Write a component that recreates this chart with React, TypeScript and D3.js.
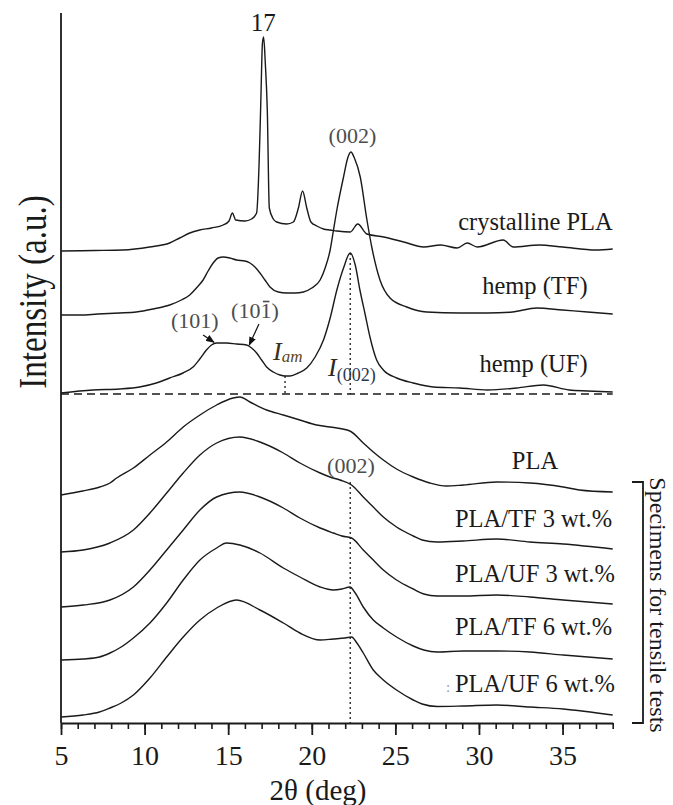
import * as d3 from 'd3';
import { useEffect, useRef } from "react";

// 2theta (deg) vs intensity (a.u., curves already stacked)
const crystallinePLA: [number, number][] = [
    [5, 472], [7, 472.5], [8.7, 473], [10.3, 476], [11.5, 480], [12.1, 485], [12.7, 490], [13.3, 493], [14.0, 495],
    [14.7, 498], [15.05, 502], [15.25, 510], [15.45, 503], [16.0, 502], [16.4, 504], [16.7, 510], [16.85, 560],
    [16.95, 620], [17.05, 680], [17.12, 686], [17.22, 660], [17.34, 613], [17.46, 515], [17.7, 504], [17.9, 501],
    [18.5, 499], [18.9, 501], [19.2, 515], [19.45, 532], [19.7, 515], [19.95, 501], [20.3, 497], [20.7, 494],
    [21.1, 493], [21.5, 492], [22.3, 491], [22.75, 499], [23.3, 489], [24.3, 486], [25.5, 481], [26.7, 476],
    [27.7, 478], [28.7, 475], [29.3, 480], [29.9, 476], [31.45, 483], [32.05, 476], [33.6, 478], [35.0, 476],
    [37.0, 473], [38, 474]
];
const hempTF: [number, number][] = [
    [5, 408], [6.2, 408], [7.2, 409], [8.5, 410], [9.5, 411], [10.5, 414], [11.5, 418], [12.2, 423], [12.7, 428],
    [13.1, 435], [13.5, 443], [13.8, 452], [14.1, 460], [14.4, 465], [14.7, 466], [15.1, 465], [15.5, 463],
    [16.0, 462], [16.3, 460], [16.6, 456], [16.9, 450], [17.2, 443], [17.5, 436], [18.0, 431], [18.5, 430],
    [19.0, 430], [19.5, 431], [20.0, 435], [20.5, 443], [20.8, 455], [21.1, 473], [21.3, 493], [21.5, 513],
    [21.9, 546], [22.15, 565], [22.34, 571], [22.55, 565], [22.9, 546], [23.3, 503], [23.6, 475], [24.08, 443],
    [24.68, 425], [25.68, 416], [26.87, 411], [28.86, 410], [30.5, 410], [32.0, 411],
    [33.45, 415], [35.0, 413], [36.5, 411], [38, 409]
];
const hempUF: [number, number][] = [
    [5, 330], [6.9, 333], [8.5, 334], [9.7, 336], [10.7, 340], [11.5, 345], [12.3, 350], [12.9, 356], [13.3, 364],
    [13.7, 373], [14.0, 378], [14.3, 380], [14.9, 380], [15.5, 379], [16.1, 378], [16.4, 375], [16.7, 370],
    [17.0, 363], [17.3, 356], [17.7, 351], [18.1, 348], [18.4, 347], [18.7, 347], [19.2, 350], [19.7, 355],
    [20.2, 366], [20.7, 383], [21.1, 405], [21.5, 433], [21.9, 455], [22.3, 470], [22.6, 458], [22.88, 433],
    [23.2, 408], [23.48, 386], [23.88, 363], [24.28, 353], [25.08, 345], [26.07, 340], [27.27, 336],
    [28.86, 335], [30.5, 333], [32.25, 335], [33.85, 338], [35.4, 333], [36.5, 332], [38, 331]
];
const PLA: [number, number][] = [
    [5, 228], [6.3, 232], [7.33, 236], [7.93, 240], [8.33, 245], [9.33, 255], [10.32, 268], [11.32, 281],
    [12.31, 296], [13.31, 308], [14.31, 318], [15.3, 325], [15.7, 326], [16.3, 321], [17.3, 313], [18.3, 308],
    [19.29, 303], [20.29, 298], [21.09, 296], [22.28, 292], [23.08, 280], [23.68, 271], [24.28, 263], [25.07, 254],
    [26.07, 246], [27.07, 240], [28.06, 237], [29.06, 238], [31.05, 241], [33.04, 240], [35.04, 236], [36.0, 233],
    [38, 231]
];
const PLA_TF3: [number, number][] = [
    [5, 171], [6.33, 173], [7.93, 180], [9.33, 193], [10.32, 210], [11.32, 230], [12.31, 250], [13.31, 268],
    [14.31, 280], [15.7, 286], [16.9, 281], [18.3, 270], [19.29, 260], [20.5, 250], [21.09, 246], [21.69, 243],
    [22.38, 238], [23.08, 226], [23.68, 216], [24.28, 206], [25.07, 196], [26.07, 187], [26.6, 183], [27.5, 181],
    [29.06, 182], [31.05, 184], [33.04, 181], [35.04, 179], [38, 174]
];
const PLA_UF3: [number, number][] = [
    [5, 116], [6.33, 118], [7.93, 123], [9.33, 136], [10.32, 153], [11.32, 173], [12.31, 193], [13.31, 213],
    [14.31, 226], [15.7, 231], [16.9, 226], [18.3, 215], [19.29, 205], [20.5, 195], [21.29, 190], [21.8, 187],
    [22.38, 185], [23.08, 173], [23.68, 163], [24.28, 153], [25.07, 143], [26.07, 134], [26.7, 129], [27.5, 127],
    [29.06, 127], [31.05, 128], [33.04, 126], [35.04, 123], [38, 119]
];
const PLA_TF6: [number, number][] = [
    [5, 63], [6.33, 64], [7.3, 66], [7.93, 70], [8.6, 76], [9.33, 85], [10.32, 100], [11.32, 120], [12.31, 143],
    [13.31, 163], [14.31, 175], [14.9, 180], [15.7, 178], [16.9, 170], [18.3, 155], [19.29, 146], [20.5, 136],
    [21.29, 133], [21.8, 134], [22.28, 136], [22.6, 130], [23.08, 116], [23.68, 103], [24.28, 95], [25.07, 86],
    [26.07, 77], [26.7, 73], [27.5, 71], [29.06, 72], [31.05, 72], [33.04, 71], [35.04, 68], [38, 64]
];
const PLA_UF6: [number, number][] = [
    [5, 6], [6.33, 8], [7.3, 11], [7.93, 15], [8.6, 20], [9.33, 28], [10.32, 45], [11.32, 66], [12.31, 86],
    [13.31, 103], [14.31, 115], [15.5, 123], [16.9, 113], [18.3, 100], [19.29, 90], [20.5, 83], [21.29, 84],
    [22.0, 85], [22.38, 86], [22.7, 80], [23.08, 70], [23.68, 53], [24.28, 43], [25.07, 33], [26.07, 23],
    [26.6, 19], [27.5, 16.5], [29.06, 17], [31.05, 18], [33.04, 16], [35.04, 14], [38, 8]
];

const seriesNames = ["crystalline PLA", "hemp (TF)", "hemp (UF)", "PLA", "PLA/TF 3 wt.%", "PLA/UF 3 wt.%", "PLA/TF 6 wt.%", "PLA/UF 6 wt.%"];
const seriesData = [crystallinePLA, hempTF, hempUF, PLA, PLA_TF3, PLA_UF3, PLA_TF6, PLA_UF6];
const xTicks = [5, 10, 15, 20, 25, 30, 35];
const xDomain = [5, 38];
const hempBaseline = 329;
const peak002 = 22.3;
const amorphousMin = 18.4;

const serif = '"Liberation Serif", "Times New Roman", serif';

const App = () => {
    const svgRef = useRef<SVGSVGElement>(null);
    const width = 673, height = 805;

    useEffect(() => {
        const svg = d3.select(svgRef.current)
            .attr('width', width)
            .attr('height', height)
            .style('font-family', serif);
        svg.selectAll('*').remove();

        const x = d3.scaleLinear().domain(xDomain).range([61, 612.7]);
        const y = d3.scaleLinear().domain([0, 710]).range([723, 13]);
        const ink = '#1a1a1a';

        svg.append('defs').append('marker')
            .attr('id', 'arr')
            .attr('viewBox', '0 0 10 8')
            .attr('refX', 9).attr('refY', 4)
            .attr('markerWidth', 9).attr('markerHeight', 7)
            .attr('markerUnits', 'userSpaceOnUse')
            .attr('orient', 'auto')
            .append('path').attr('d', 'M0,0 L10,4 L0,8 z').attr('fill', '#111');

        // minor ticks
        const minor = svg.append('g').attr('transform', `translate(0,${y(0)})`)
            .call(d3.axisBottom(x).tickValues(d3.range(5, 39, 1)).tickSize(6).tickSizeOuter(0).tickFormat(() => ''));
        minor.selectAll('line').attr('stroke', ink).attr('stroke-width', 1.6);
        minor.select('.domain').attr('stroke', ink).attr('stroke-width', 1.8);

        const major = svg.append('g').attr('transform', `translate(0,${y(0)})`)
            .call(d3.axisBottom(x).tickValues(xTicks).tickSize(12).tickSizeOuter(0).tickPadding(10))
            .attr('font-family', serif)
            .attr('font-size', 28);
        major.select('.domain').remove();
        major.selectAll('line').attr('stroke', ink).attr('stroke-width', 1.8);
        major.selectAll('text').attr('fill', ink);

        // y axis line
        svg.append('line')
            .attr('x1', x(5)).attr('x2', x(5))
            .attr('y1', y(710)).attr('y2', y(0))
            .attr('stroke', ink).attr('stroke-width', 1.8);

        // reference lines
        svg.append('line')
            .attr('x1', x(5)).attr('x2', x(38))
            .attr('y1', y(hempBaseline)).attr('y2', y(hempBaseline))
            .attr('stroke', ink).attr('stroke-width', 1.3).attr('stroke-dasharray', '8,5');
        const dotted = [
            [amorphousMin, 347, hempBaseline],
            [peak002, 470, hempBaseline],
            [peak002, 241, 0],
        ];
        dotted.forEach(([d, y1, y2]) => {
            svg.append('line')
                .attr('x1', x(d)).attr('x2', x(d))
                .attr('y1', y(y1)).attr('y2', y(y2))
                .attr('stroke', ink).attr('stroke-width', 1.3).attr('stroke-dasharray', '2,3');
        });

        const line = d3.line<[number, number]>()
            .x(d => x(d[0]))
            .y(d => y(d[1]))
            .curve(d3.curveMonotoneX);

        seriesData.forEach(s => {
            svg.append('path')
                .attr('d', line(s))
                .attr('fill', 'none')
                .attr('stroke', ink)
                .attr('stroke-width', 1.4);
        });

        // curve labels: [deg, value, anchor]
        const labelPos: [number, number, string][] = [
            [38, 493, 'end'], [36.5, 429, 'end'], [36.5, 351, 'end'],
            [33.35, 254, 'middle'], [28.56, 196, 'start'], [28.56, 141, 'start'],
            [28.56, 88, 'start'], [28.56, 31, 'start'],
        ];
        seriesNames.forEach((name, i) => {
            const [d, v, anchor] = labelPos[i];
            svg.append('text')
                .attr('x', x(d)).attr('y', y(v))
                .attr('text-anchor', anchor)
                .attr('fill', ink)
                .style('font-size', '24.5px')
                .text(name);
        });
        svg.append('text')
            .attr('x', x(28.03)).attr('y', y(31))
            .attr('fill', '#999').style('font-size', '15px')
            .text(':');

        // peak annotations
        const gray = '#4d4d4d';
        svg.append('text').attr('x', x(17.1)).attr('y', y(692)).attr('text-anchor', 'middle')
            .attr('fill', ink).style('font-size', '25px').text('17');
        svg.append('text').attr('x', x(22.43)).attr('y', y(580)).attr('text-anchor', 'middle')
            .attr('fill', gray).style('font-size', '22px').text('(002)');
        svg.append('text').attr('x', x(22.34)).attr('y', y(250)).attr('text-anchor', 'middle')
            .attr('fill', gray).style('font-size', '22px').text('(002)');
        svg.append('text').attr('x', x(13.0)).attr('y', y(395)).attr('text-anchor', 'middle')
            .attr('fill', gray).style('font-size', '22px').text('(101)');
        const hkl = svg.append('text').attr('x', x(16.6)).attr('y', y(405)).attr('text-anchor', 'middle')
            .attr('fill', gray).style('font-size', '22px').text('(101)');
        // bar over the last index
        const node = hkl.node() as SVGTextElement;
        const s = node.getStartPositionOfChar(3);
        const e = node.getEndPositionOfChar(3);
        svg.append('line')
            .attr('x1', s.x + 2.5).attr('x2', e.x - 2)
            .attr('y1', y(405) - 16.5).attr('y2', y(405) - 16.5)
            .attr('stroke', gray).attr('stroke-width', 1.6);

        const arrows = [
            [13.5, 388, 14.15, 380.7],
            [16.84, 399, 16.26, 378],
        ];
        arrows.forEach(([d1, v1, d2, v2]) => {
            svg.append('line')
                .attr('x1', x(d1)).attr('y1', y(v1))
                .attr('x2', x(d2)).attr('y2', y(v2))
                .attr('stroke', '#111').attr('stroke-width', 1.2)
                .attr('marker-end', 'url(#arr)');
        });

        const iam = svg.append('text').attr('x', x(17.68)).attr('y', y(363))
            .style('font-style', 'italic');
        iam.append('tspan').attr('fill', '#3b2f1c').style('font-size', '26px').text('I');
        iam.append('tspan').attr('fill', '#5c4521').attr('dy', 2).style('font-size', '17px').text('am');

        const i002 = svg.append('text').attr('x', x(20.97)).attr('y', y(347));
        i002.append('tspan').attr('fill', '#2c2a28').style('font-style', 'italic').style('font-size', '26px').text('I');
        i002.append('tspan').attr('fill', '#283850').attr('dy', 5).style('font-size', '18px').text('(002)');

        // bracket for tensile specimens
        const bx = 643;
        svg.append('path')
            .attr('d', `M${bx - 11},${y(241)} H${bx} V${y(0)} H${bx - 11}`)
            .attr('fill', 'none').attr('stroke', ink).attr('stroke-width', 1.8);
        svg.append('text')
            .attr('transform', `translate(650,${y(118)}) rotate(90)`)
            .attr('text-anchor', 'middle')
            .attr('fill', ink)
            .style('font-size', '24px')
            .text('Specimens for tensile tests');

        // axis titles
        svg.append('text')
            .attr('x', 318).attr('y', 800)
            .attr('text-anchor', 'middle')
            .attr('fill', ink)
            .style('font-size', '29px')
            .text('2θ (deg)');
        svg.append('text')
            .attr('transform', `translate(46,292) rotate(-90) scale(1,1.2)`)
            .attr('text-anchor', 'middle')
            .attr('fill', ink)
            .style('font-size', '33px')
            .text('Intensity (a.u.)');
    }, []);

    return (
        <div style={{ position: 'absolute', left: 0, top: 0 }}>
            <svg ref={svgRef} />
        </div>
    );
};

export default App;
